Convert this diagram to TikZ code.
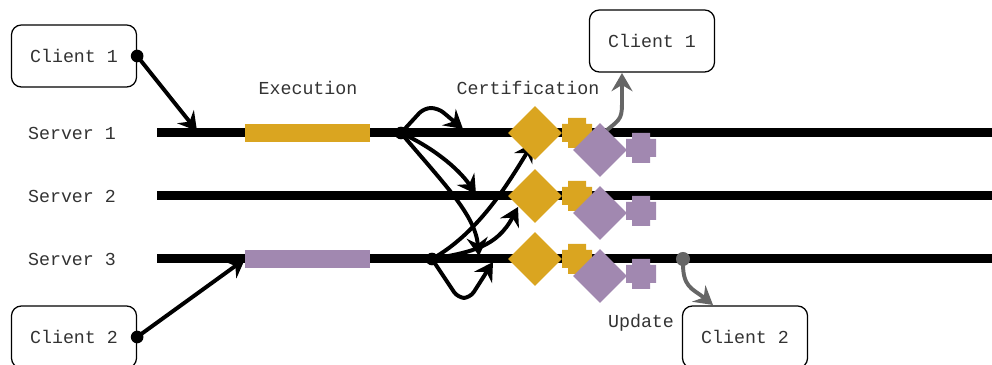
\documentclass[tikz,border=0pt]{standalone}
\usepackage{fontspec}
\setmonofont{Liberation Mono}
\usetikzlibrary{shapes.geometric,arrows.meta,positioning}
\definecolor{certGold}{RGB}{218,165,32}
\definecolor{updPurple}{RGB}{161,136,176}
\definecolor{linkGray}{RGB}{102,102,102}

\tikzset{
  lbl/.style={font=\ttfamily\fontsize{13}{15}\selectfont, text=black!80},
  client/.style={lbl, draw, rounded corners=7pt, line width=0.9pt,
    minimum width=3.125cm, minimum height=1.55cm},
  dot/.style={circle, fill, inner sep=0pt, minimum size=9pt},
  msg/.style={-{Stealth[length=13pt,width=15pt,inset=4.5pt]}, line width=2.8pt},
  gmsg/.style={msg, linkGray},
  server/.style={line width=6.4pt},
  odiam/.style={diamond, fill=certGold, inner sep=0pt, minimum size=1.35cm},
  pdiam/.style={diamond, fill=updPurple, inner sep=0pt, minimum size=1.35cm},
  pics/plusmark/.style={code={
    \fill[#1] (-9,15) -- (9,15) -- (9,9) -- (15,9) -- (15,-9) -- (9,-9)
      -- (9,-15) -- (-9,-15) -- (-9,-9) -- (-15,-9) -- (-15,9) -- (-9,9) -- cycle;}}
}

\begin{document}
\begin{tikzpicture}[x=0.025cm,y=0.025cm]
        \useasboundingbox (0,0) rectangle (992,-365);
        % Servers
        \foreach \y/\n in {133/1,196/2,259/3}{
          \node[lbl] (srv\n) at (72,-\y) {Server \n};
          \draw[server] (157,-\y) -- (992,-\y);
        }
        % Execution bars
        \fill[certGold] (245,-124) rectangle (370,-142);
        \fill[updPurple] (245,-250) rectangle (370,-268);
        \node[lbl] (exec) at (308,-88) {Execution};
        \node[lbl] (cert) at (528,-88) {Certification};
        % Clients
        \node[client] (cl1) at (74,-56) {Client 1};
        \node[client] (cl2) at (74,-337) {Client 2};
        \node[client] (cl1r) at (652,-41) {Client 1};
        \node[client] (cl2r) at (745,-337) {Client 2};
        \node[dot] (c1dot) at (cl1.east) {};
        \node[dot] (c2dot) at (cl2.east) {};
        \coordinate (s1in) at (197,-131);
        \coordinate (s3in) at (245,-259);
        \draw[msg] (c1dot.center) -- (s1in);
        \draw[msg] (c2dot.center) -- (s3in);
        % Broadcast from server 1
        \node[dot] (f1) at (401,-133) {};
        \coordinate (f1a) at (463,-129);
        \coordinate (f1b) at (476,-194);
        \coordinate (f1c) at (479,-256);
        \draw[msg, rounded corners=5pt] (f1.center) -- (424,-108) -- (438,-108) -- (f1a);
        \draw[msg] (f1.center) .. controls (432,-147) and (458,-168) .. (f1b);
        \draw[msg] (f1.center) .. controls (445,-185) and (475,-215) .. (f1c);
        % Broadcast from server 3
        \node[dot] (f3) at (432,-259) {};
        \coordinate (f3a) at (493,-262);
        \coordinate (f3b) at (518,-207);
        \coordinate (f3c) at (533,-143);
        \draw[msg, rounded corners=5pt] (f3.center) -- (458,-298) -- (470,-298) -- (f3a);
        \draw[msg] (f3.center) .. controls (472,-252) and (497,-247) .. (f3b);
        \draw[msg] (f3.center) .. controls (480,-232) and (510,-180) .. (f3c);
        % Certification
        \foreach \y/\n in {133/1,196/2,259/3}{
          \node[odiam] (od\n) at (535,-\y) {};
          \pic at (577,-\y) {plusmark=certGold};
        }
        % Reply to client 1
        \coordinate (g1s) at (607,-130);
        \coordinate (g1e) at (622,-73);
        \draw[gmsg] (g1s) .. controls (622,-118) .. (622,-98) -- (g1e);
        % Update
        \foreach \y/\n in {133/1,196/2,259/3}{
          \node[pdiam] (pd\n) at (600,-\y-17) {};
          \pic at (641,-\y-15) {plusmark=updPurple};
        }
        \node[dot, linkGray, minimum size=10pt] (ud) at (683,-259) {};
        \coordinate (g2e) at (713,-305);
        \draw[gmsg] (ud.center) .. controls (682,-288) and (692,-288) .. (g2e);
        \node[lbl] (upd) at (641,-323) {Update};
\end{tikzpicture}
\end{document}
